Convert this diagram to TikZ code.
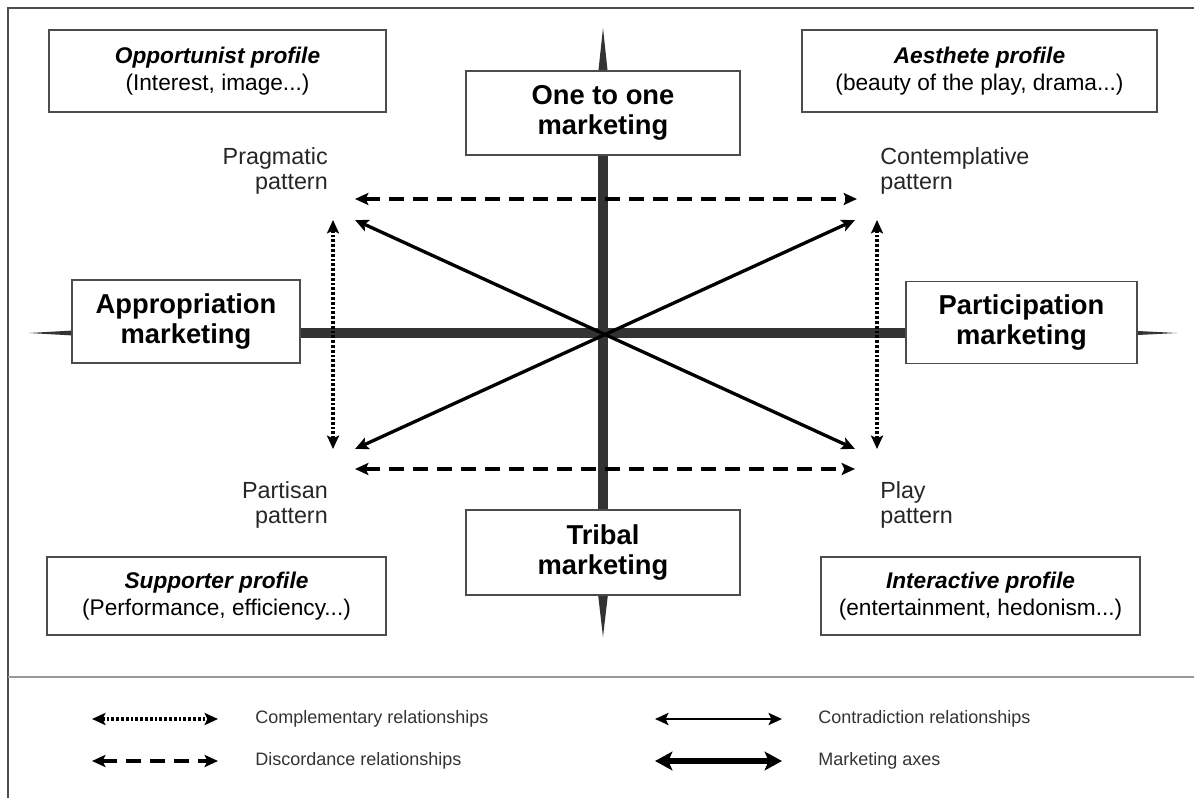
\documentclass[tikz,border=0pt]{standalone}
\usepackage{fontspec}
\setmainfont{Liberation Sans}
\usepackage{tikz}
\usetikzlibrary{arrows.meta}

\begin{document}
\begin{tikzpicture}[x=75pt,y=-75pt,
    box/.style={draw=black!70, line width=1.2pt, fill=white, align=center, inner sep=0pt},
    axisbox/.style={box, font=\bfseries\fontsize{20.5}{22.5}\selectfont},
    profbox/.style={box, font=\fontsize{17}{20}\selectfont},
    lbl/.style={inner sep=0pt, text=black!85, font=\fontsize{17.5}{19}\selectfont},
    key/.style={inner sep=0pt, anchor=west, text=black!80, font=\fontsize{13.5}{16}\selectfont},
    axis/.style={line width=7.5pt, draw=black!80},
    tips/.style={{Stealth[length=10pt,width=9pt,inset=2pt]}-{Stealth[length=10pt,width=9pt,inset=2pt]}},
    contra/.style={tips, line width=2.5pt},
    discord/.style={tips, line width=2.8pt, dash pattern=on 11pt off 7pt},
    compl/.style={tips, line width=2.4pt, dash pattern=on 2pt off 1.6pt}]
  \useasboundingbox (0,0) rectangle (11.94,7.98);
  % frame
  \draw[black!70, line width=1.2pt] (0.08,7.98) -- (0.08,0.08) -- (11.94,0.08);
  \draw[black!40, line width=2.2pt] (0.08,6.77) -- (11.94,6.77);

  % profiles
  \node[profbox, minimum width=252.75pt, minimum height=61.5pt] at (2.175,0.71) (Opp)
    {\textbf{\textit{Opportunist profile}}\\(Interest, image...)};
  \node[profbox, minimum width=266.25pt, minimum height=61.5pt] at (9.795,0.71) (Aes)
    {\textbf{\textit{Aesthete profile}}\\(beauty of the play, drama...)};
  \node[profbox, minimum width=254.25pt, minimum height=58.5pt] at (2.165,5.96) (Sup)
    {\textbf{\textit{Supporter profile}}\\(Performance, efficiency...)};
  \node[profbox, minimum width=239.25pt, minimum height=58.5pt] at (9.805,5.96) (Int)
    {\textbf{\textit{Interactive profile}}\\(entertainment, hedonism...)};

  % marketing boxes
  \node[axisbox, minimum width=205.5pt, minimum height=63pt] at (6.03,1.13) (One)
    {One to one\\marketing};
  \node[axisbox, minimum width=205.5pt, minimum height=63.75pt] at (6.03,5.525) (Tri)
    {Tribal\\marketing};
  \node[axisbox, minimum width=171pt, minimum height=62.25pt] at (1.86,3.215) (App)
    {Appropriation\\marketing};
  \node[axisbox, minimum width=173.25pt, minimum height=61.5pt] at (10.215,3.225) (Par)
    {Participation\\marketing};

  % axes
  \coordinate (Ctr) at (6.03,3.33);
  \coordinate (LT) at (App.west |- Ctr);
  \coordinate (RT) at (Par.east |- Ctr);
  \draw[axis] (One.south) -- (Tri.north);
  \draw[axis] (App.east |- Ctr) -- (Par.west |- Ctr);
  \fill[black!80] ([xshift=-3.4pt]One.north) -- ([xshift=3.4pt]One.north) -- (6.03,0.28) -- cycle;
  \fill[black!80] ([xshift=-3.6pt]Tri.south) -- ([xshift=3.6pt]Tri.south) -- (6.03,6.37) -- cycle;
  \fill[black!80] ([yshift=-1.8pt]LT) -- ([yshift=1.8pt]LT) -- (0.29,3.33) -- cycle;
  \fill[black!80] ([yshift=-1.5pt]RT) -- ([yshift=1.5pt]RT) -- (11.77,3.33) -- cycle;

  % patterns
  \node[lbl, align=right, anchor=east] at (3.28,1.71) (Prag) {Pragmatic\\pattern};
  \node[lbl, align=left, anchor=west] at (8.80,1.71) (Cont) {Contemplative\\pattern};
  \node[lbl, align=right, anchor=east] at (3.28,5.05) (Part) {Partisan\\pattern};
  \node[lbl, align=left, anchor=west] at (8.80,5.05) (Play) {Play\\pattern};

  \coordinate (TL) at (3.55,2.20);
  \coordinate (TR) at (8.55,2.20);
  \coordinate (BL) at (3.55,4.49);
  \coordinate (BR) at (8.55,4.49);
  \coordinate (DTL) at (3.55,1.99);
  \coordinate (DTR) at (8.57,1.99);
  \coordinate (DBL) at (3.55,4.69);
  \coordinate (DBR) at (8.55,4.69);
  \coordinate (PTL) at (3.33,2.20);
  \coordinate (PBL) at (3.33,4.49);
  \coordinate (PTR) at (8.77,2.20);
  \coordinate (PBR) at (8.77,4.49);
  \draw[contra] (TL) -- (BR);
  \draw[contra] (TR) -- (BL);
  \draw[discord] (DTL) -- (DTR);
  \draw[discord] (DBL) -- (DBR);
  \draw[compl] (PTL) -- (PBL);
  \draw[compl] (PTR) -- (PBR);

  % legend
  \coordinate (K1a) at (0.92,7.19);
  \coordinate (K1b) at (2.18,7.19);
  \coordinate (K2a) at (0.92,7.61);
  \coordinate (K2b) at (2.18,7.61);
  \coordinate (K3a) at (6.55,7.19);
  \coordinate (K3b) at (7.82,7.19);
  \coordinate (K4a) at (6.55,7.61);
  \coordinate (K4b) at (7.82,7.61);
  \draw[compl] (K1a) -- (K1b);
  \draw[discord] (K2a) -- (K2b);
  \draw[contra, line width=2.2pt] (K3a) -- (K3b);
  \draw[{Stealth[length=13pt,width=14pt,inset=3pt]}-{Stealth[length=13pt,width=14pt,inset=3pt]}, line width=4.2pt] (K4a) -- (K4b);
  \node[key] at (2.55,7.19) (Comp) {Complementary relationships};
  \node[key] at (2.55,7.61) (Disc) {Discordance relationships};
  \node[key] at (8.18,7.19) (Contr) {Contradiction relationships};
  \node[key] at (8.18,7.61) (Mark) {Marketing axes};
\end{tikzpicture}
\end{document}
